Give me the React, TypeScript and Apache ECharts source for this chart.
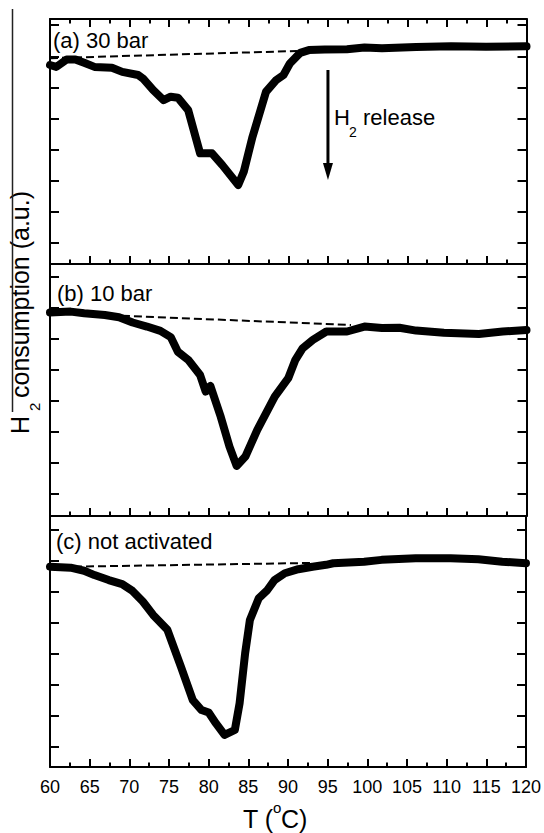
import React, { useEffect, useRef } from 'react';
import * as echarts from 'echarts';

// ---------- data (T in °C, signal in a.u.) ----------
const tempA = [60, 60.8, 62.1, 63.2, 64.3, 65.6, 67.8, 69.1, 71.1, 71.7, 73.0, 74.3, 75.2, 76.1, 77.4, 78.9, 80.4, 81.7, 83.7, 84.4, 85.5, 87.2, 88.5, 89.4, 90.2, 91.5, 92.6, 94.6, 97.4, 99.6, 101.8, 106.1, 110.5, 114.9, 120];
const signalA = [5.72, 5.66, 5.90, 5.90, 5.79, 5.66, 5.63, 5.50, 5.40, 5.29, 4.91, 4.59, 4.70, 4.67, 4.27, 2.88, 2.88, 2.50, 1.86, 2.29, 3.41, 4.86, 5.24, 5.40, 5.77, 6.11, 6.20, 6.22, 6.23, 6.28, 6.26, 6.30, 6.32, 6.31, 6.32];

const tempB = [60, 62.6, 64.3, 66.9, 68.7, 70.4, 72.2, 73.9, 75.2, 76.1, 77.4, 78.9, 79.6, 80.2, 81.5, 82.6, 83.5, 84.6, 86.1, 88.3, 90.0, 90.9, 91.8, 93.1, 94.8, 97.4, 99.6, 101.8, 104.0, 106.1, 109.6, 114.0, 117.0, 120];
const signalB = [5.84, 5.87, 5.82, 5.76, 5.69, 5.52, 5.39, 5.25, 5.05, 4.58, 4.32, 3.83, 3.30, 3.48, 2.49, 1.53, 0.91, 1.21, 2.07, 3.14, 3.73, 4.32, 4.69, 4.96, 5.23, 5.23, 5.39, 5.34, 5.35, 5.26, 5.19, 5.15, 5.23, 5.28];

const tempC = [60, 62.6, 64.3, 65.6, 67.4, 69.1, 70.4, 71.7, 73.0, 74.8, 76.5, 78.0, 79.1, 80.0, 80.9, 82.0, 83.3, 83.9, 84.6, 85.2, 86.3, 87.4, 88.3, 89.6, 91.3, 93.1, 94.8, 95.7, 99.6, 101.8, 106.1, 110.5, 114.0, 117.0, 120];
const signalC = [5.80, 5.77, 5.67, 5.53, 5.37, 5.24, 5.02, 4.68, 4.25, 3.77, 2.59, 1.51, 1.19, 1.11, 0.77, 0.39, 0.55, 1.41, 3.02, 4.09, 4.78, 5.05, 5.37, 5.59, 5.72, 5.80, 5.86, 5.91, 5.96, 6.02, 6.07, 6.07, 6.04, 5.96, 5.91];

// dashed baselines
const baseTempA = [60, 91.1];
const baseSigA = [5.94, 6.17];
const baseTempB = [60, 97.9];
const baseSigB = [5.83, 5.44];
const baseTempC = [60, 93.0];
const baseSigC = [5.79, 5.92];

const panelLabels = ['(a) 30 bar', '(b) 10 bar', '(c) not activated'];
const yTickValues = [0, 1, 2, 3, 4, 5, 6, 7];
const yRanges = [[-0.68, 7.20], [-0.70, 7.40], [-0.64, 7.43]];
const xMin = 60;
const xMax = 120;
const xStep = 5;

// H2 release arrow (panel a)
const arrowT = 95;
const arrowFrom = 5.56;
const arrowTo = 2.02;

const FONT = '"Liberation Sans", Arial, Helvetica, sans-serif';

const zip = (a: number[], b: number[]) => a.map((v, i) => [v, b[i]]);

export default function App() {
  const ref = useRef<HTMLDivElement>(null);

  useEffect(() => {
    document.body.style.margin = '0';
    const chart = echarts.init(ref.current!, null, { renderer: 'svg' });

    const grids = [
      { left: 50, right: 17.5, top: 19, height: 245 },
      { left: 50, right: 17.5, top: 264, height: 252 },
      { left: 50, right: 17.5, top: 516, height: 251 },
    ];

    const lineW = 2;
    const xAxes: any[] = [];
    const yAxes: any[] = [];
    grids.forEach((_, i) => {
      // bottom axis
      xAxes.push({
        type: 'value', gridIndex: i, position: 'bottom', min: xMin, max: xMax, interval: xStep,
        axisLine: { show: true, onZero: false, lineStyle: { color: '#000', width: lineW } },
        axisTick: { show: true, inside: true, length: 8, lineStyle: { color: '#000', width: 2 } },
        minorTick: { show: true, splitNumber: 2, length: 4.5, lineStyle: { color: '#000', width: 2 } },
        axisLabel: { show: i === 2, color: '#000', fontSize: 18, fontFamily: FONT, margin: 11 },
        splitLine: { show: false },
      });
      // top axis
      xAxes.push({
        type: 'value', gridIndex: i, position: 'top', min: xMin, max: xMax, interval: xStep,
        axisLine: { show: true, onZero: false, lineStyle: { color: '#000', width: lineW } },
        axisTick: { show: i === 0, inside: true, length: 8, lineStyle: { color: '#000', width: 2 } },
        minorTick: { show: i === 0, splitNumber: 2, length: 4.5, lineStyle: { color: '#000', width: 2 } },
        axisLabel: { show: false },
        splitLine: { show: false },
      });
      ['left', 'right'].forEach((pos) => {
        yAxes.push({
          type: 'value', gridIndex: i, position: pos, min: yRanges[i][0], max: yRanges[i][1],
          axisLine: { show: true, onZero: false, lineStyle: { color: '#000', width: lineW } },
          axisTick: { show: true, inside: true, length: 9, customValues: yTickValues, lineStyle: { color: '#000', width: 2 } },
          axisLabel: { show: false, customValues: yTickValues },
          splitLine: { show: false },
        });
      });
    });

    const curves = [zip(tempA, signalA), zip(tempB, signalB), zip(tempC, signalC)];
    const bases = [zip(baseTempA, baseSigA), zip(baseTempB, baseSigB), zip(baseTempC, baseSigC)];

    const series: any[] = [];
    curves.forEach((d, i) => {
      series.push({
        type: 'line', xAxisIndex: i * 2, yAxisIndex: i * 2, data: d, showSymbol: false, symbol: 'none',
        lineStyle: { color: '#000', width: 8, cap: 'round', join: 'round' }, z: 3,
      });
    });
    bases.forEach((d, i) => {
      series.push({
        type: 'line', xAxisIndex: i * 2, yAxisIndex: i * 2, data: d, showSymbol: false, symbol: 'none',
        lineStyle: { color: '#000', width: 2, type: [8, 4] }, z: 2,
      });
    });

    chart.setOption({
      animation: false,
      backgroundColor: '#fff',
      grid: grids,
      xAxis: xAxes,
      yAxis: yAxes,
      series,
    });

    const p1 = chart.convertToPixel({ seriesIndex: 0 }, [arrowT, arrowFrom]) as number[];
    const p2 = chart.convertToPixel({ seriesIndex: 0 }, [arrowT, arrowTo]) as number[];
    const headLen = 17;
    const headHalf = 5;

    const txt = (text: string, x: number, y: number, size: number, extra: any = {}) => ({
      type: 'text', x, y, silent: true,
      style: {
        text, fontSize: size, fontFamily: FONT, fill: '#000',
        textAlign: 'left', align: 'left', textVerticalAlign: 'middle', verticalAlign: 'middle',
        ...extra,
      },
    });

    const elements: any[] = [
      txt(panelLabels[0], 53, 40, 22),
      txt(panelLabels[1], 57, 293, 22),
      txt(panelLabels[2], 56, 541, 22),
      // H2 release
      txt('H', 334, 117, 22),
      txt('2', 349, 132, 14),
      txt('release', 363, 117, 22),
      // arrow
      {
        type: 'line', silent: true,
        shape: { x1: p1[0], y1: p1[1], x2: p2[0], y2: p2[1] - headLen + 2 },
        style: { stroke: '#000', lineWidth: 3 },
      },
      {
        type: 'polygon', silent: true,
        shape: { points: [[p2[0] - headHalf, p2[1] - headLen], [p2[0] + headHalf, p2[1] - headLen], [p2[0], p2[1]]] },
        style: { fill: '#000' },
      },
      // x axis title T (°C)
      txt('T (', 243, 819, 25),
      txt('o', 273, 807, 15),
      txt('C)', 281, 819, 25),
      // y axis title, rotated
      { ...txt('H', 20, 434, 25), rotation: Math.PI / 2 },
      { ...txt('2', 34, 411, 15), rotation: Math.PI / 2 },
      { ...txt('consumption (a.u.)', 20, 398, 25), rotation: Math.PI / 2 },
      {
        type: 'line', silent: true,
        shape: { x1: 12.5, y1: 9, x2: 12.5, y2: 412 },
        style: { stroke: '#222', lineWidth: 1.5 },
      },
    ];

    chart.setOption({ graphic: { elements } });

    return () => chart.dispose();
  }, []);

  return <div ref={ref} style={{ width: 544, height: 833 }} />;
}
